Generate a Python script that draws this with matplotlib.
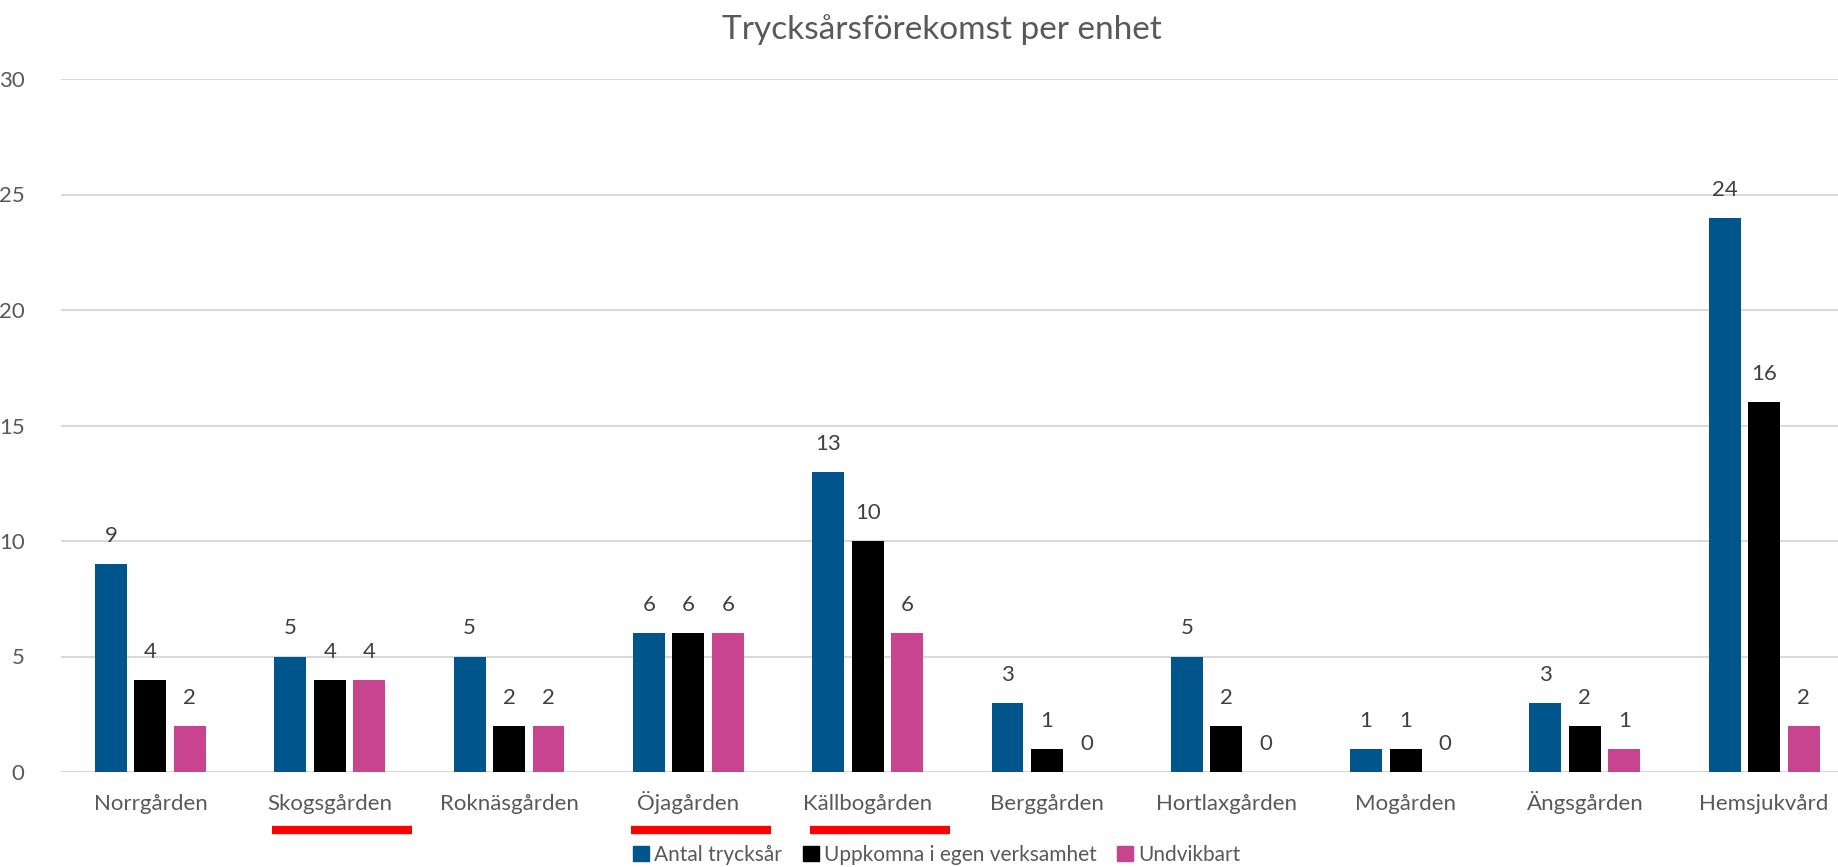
import numpy as np
import matplotlib
matplotlib.use("Agg")
import matplotlib.pyplot as plt
from matplotlib.patches import Patch

plt.rcParams['font.family'] = ['Lato', 'DejaVu Sans']

enheter = ["Norrgården", "Skogsgården", "Roknäsgården", "Öjagården", "Källbogården",
           "Berggården", "Hortlaxgården", "Mogården", "Ängsgården", "Hemsjukvård"]
antal = [9, 5, 5, 6, 13, 3, 5, 1, 3, 24]
egen = [4, 4, 2, 6, 10, 1, 2, 1, 2, 16]
undvikbart = [2, 4, 2, 6, 6, 0, 0, 0, 1, 2]
serier = ["Antal trycksår", "Uppkomna i egen verksamhet", "Undvikbart"]
markerade = ["Skogsgården", "Öjagården", "Källbogården"]

farger = ["#00558C", "#000000", "#C9448F"]
textfarg = "#595959"

fig = plt.figure(figsize=(18.38, 8.67), dpi=100)
ax = fig.add_axes([60.8 / 1838, 1 - 772 / 867, 1793 / 1838, (772 - 79) / 867])

x = np.arange(len(enheter))
bredd = 0.178
steg = 0.22
for k, (vals, c) in enumerate(zip([antal, egen, undvikbart], farger)):
    pos = x + (k - 1) * steg
    ax.bar(pos, vals, width=bredd, color=c, zorder=3)
    for p, v in zip(pos, vals):
        ax.annotate(str(v), (p, v), xytext=(0, 13), textcoords="offset points",
                    ha="center", va="bottom", fontsize=16, color="#404040")

ax.set_xlim(-0.5, len(enheter) - 0.5)
ax.set_ylim(0, 30)
ax.set_yticks(range(0, 31, 5))
ax.yaxis.grid(True, color="#D9D9D9", linewidth=1.5, zorder=0)
ax.set_axisbelow(True)
for s in ax.spines.values():
    s.set_visible(False)
ax.set_xticks(x)
ax.set_xticklabels(enheter, fontsize=16, color=textfarg, va="baseline")
ax.tick_params(axis="both", length=0, labelsize=16, labelcolor=textfarg)
ax.tick_params(axis="x", pad=27)
ax.tick_params(axis="y", pad=26)

# röda markeringar under utvalda enheter
trans = ax.get_xaxis_transform()
for namn in markerade:
    i = enheter.index(namn)
    ax.plot([i - 0.32, i + 0.46], [-0.083, -0.083], transform=trans, color="#FF0000",
            linewidth=6, solid_capstyle="butt", clip_on=False)

fig.text(942 / 1838, 1 - 30 / 867, "Trycksårsförekomst per enhet", ha="center", va="center",
         fontsize=24, color=textfarg)

handles = [Patch(color=c) for c in farger]
fig.legend(handles, serier, loc="center", bbox_to_anchor=(937 / 1838, 1 - 855 / 867),
           ncol=3, frameon=False, fontsize=15, labelcolor=textfarg,
           handlelength=0.75, handleheight=0.75, handletextpad=0.25, columnspacing=1.0)

fig.savefig("out.png", dpi=100)
